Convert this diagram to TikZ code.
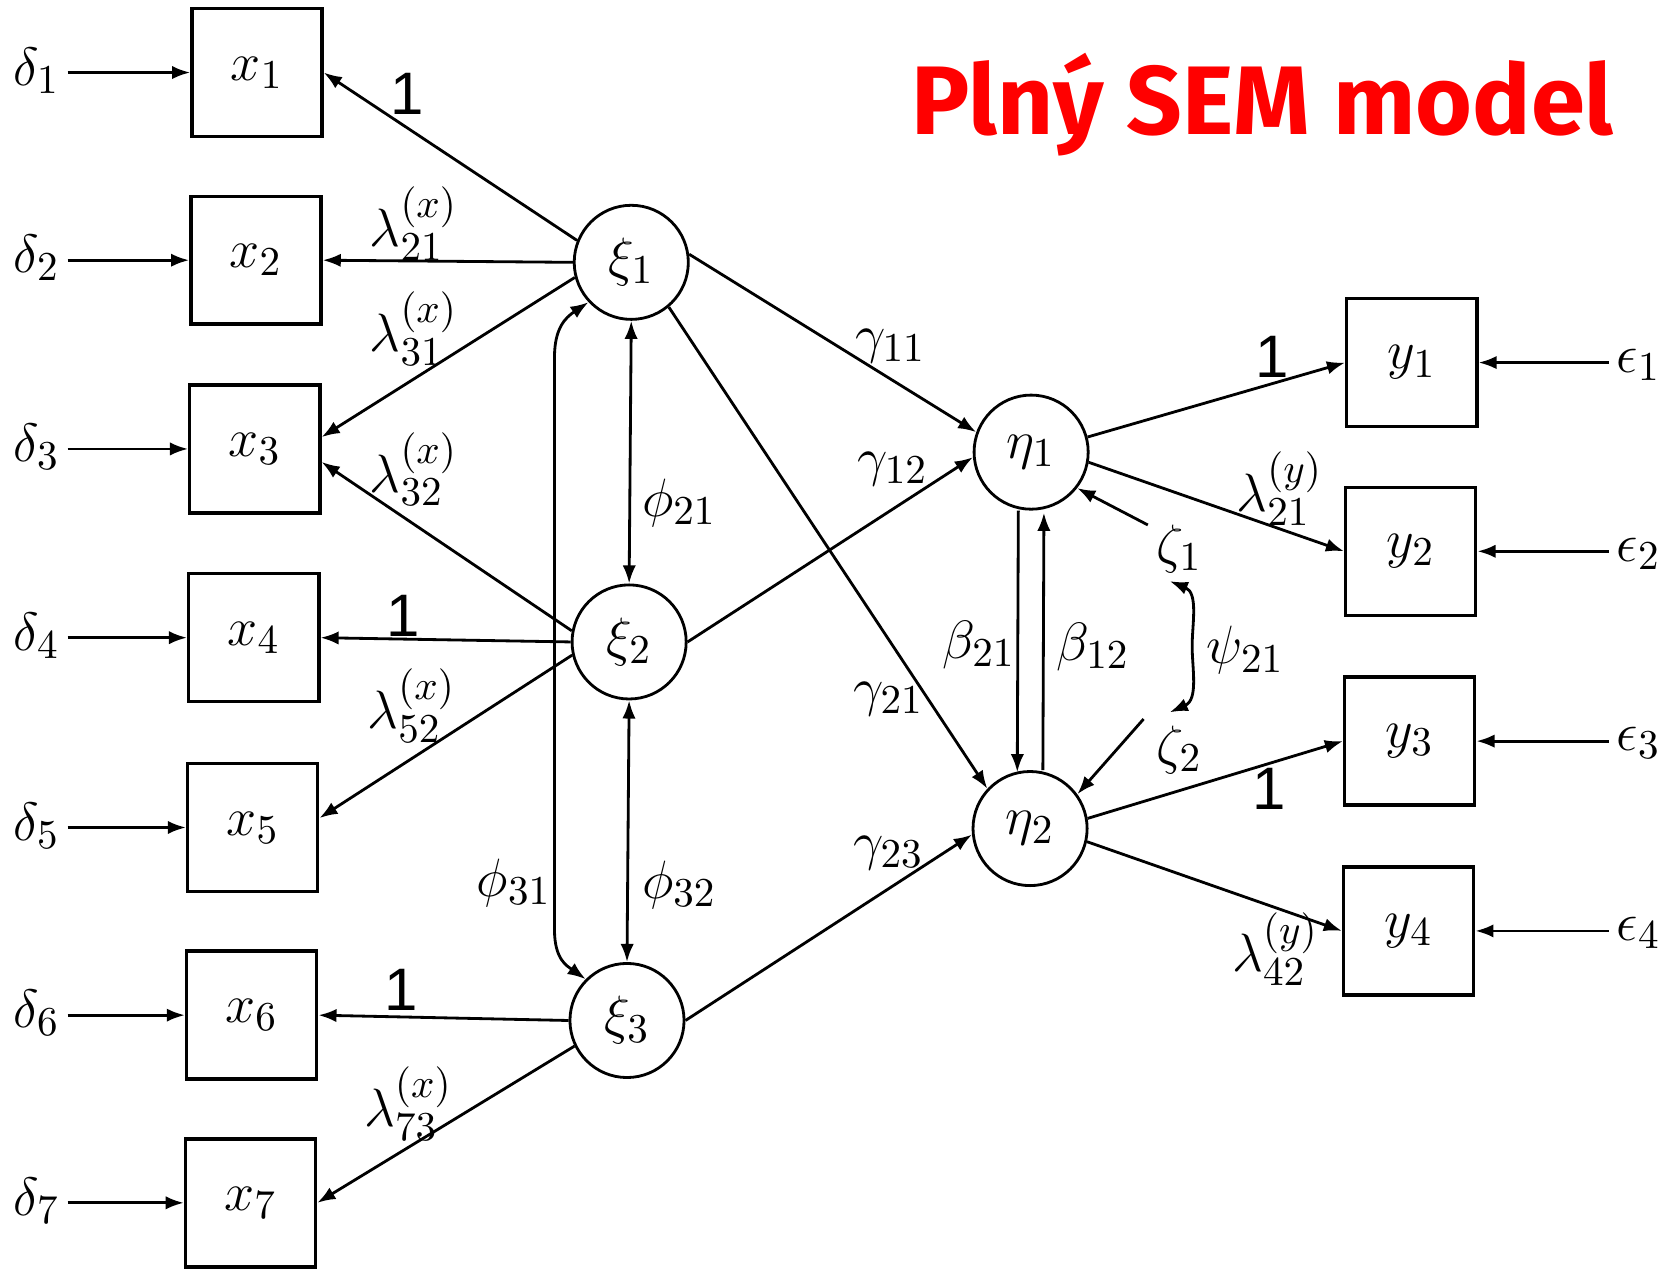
\documentclass[tikz,border=0pt]{standalone}
\usepackage{fontspec}
\usetikzlibrary{arrows.meta,calc}
\newfontfamily\titlefont{Fira Sans}
\newfontfamily\onefont{Liberation Sans}
\begin{document}
\begin{tikzpicture}[x=0.1mm,y=-0.1mm,
  obs/.style={draw,line width=0.9pt,minimum width=12.2mm,minimum height=12mm,inner sep=0pt,font=\fontsize{15}{18}\selectfont},
  lat/.style={draw,circle,line width=0.75pt,minimum size=10.7mm,inner sep=0pt,font=\fontsize{15}{18}\selectfont},
  lab/.style={font=\fontsize{15}{18}\selectfont,inner sep=1pt},
  one/.style={font=\onefont\fontsize{16}{18}\selectfont,inner sep=0pt},
  arr/.style={-{Latex[length=1.7mm,width=1.25mm]},line width=0.75pt},
  darr/.style={{Latex[length=1.7mm,width=1.25mm]}-{Latex[length=1.7mm,width=1.25mm]},line width=0.75pt}]
\useasboundingbox (0,0) rectangle (1568,1190);
% title
\node[text=red,font=\titlefont\bfseries\fontsize{26}{30}\selectfont] (title) at (1184,98) {Plný SEM model};
% observed x
\node[obs] (x1) at (241,68) {$x_1$};
\node[obs] (x2) at (240,244) {$x_2$};
\node[obs] (x3) at (239,421) {$x_3$};
\node[obs] (x4) at (238,598) {$x_4$};
\node[obs] (x5) at (237,776) {$x_5$};
\node[obs] (x6) at (236,952) {$x_6$};
\node[obs] (x7) at (235,1128) {$x_7$};
% observed y
\node[obs] (y1) at (1324,340) {$y_1$};
\node[obs] (y2) at (1323,517) {$y_2$};
\node[obs] (y3) at (1322,695) {$y_3$};
\node[obs] (y4) at (1321,873) {$y_4$};
% latent
\node[lat] (xi1) at (592,246) {$\xi_1$};
\node[lat] (xi2) at (590,602) {$\xi_2$};
\node[lat] (xi3) at (588,957) {$\xi_3$};
\node[lat] (eta1) at (967,424) {$\eta_1$};
\node[lat] (eta2) at (966,777) {$\eta_2$};
% deltas
\foreach \i/\yy in {1/68,2/244,3/421,4/598,5/776,6/952,7/1128}{
  \node[lab,anchor=east] (d\i) at (60,\yy-2) {$\delta_{\i}$};
  \draw[arr] ([xshift=1pt]d\i.east |- x\i.west) -- (x\i.west);
}
% epsilons
\foreach \i/\yy in {1/340,2/517,3/695,4/873}{
  \node[lab,anchor=west] (e\i) at (1512,\yy+2) {$\epsilon_{\i}$};
  \draw[arr] ([xshift=-1pt]e\i.west |- y\i.east) -- (y\i.east);
}
% loadings x
\draw[arr] (xi1.158) -- (x1.east);
\draw[arr] (xi1.west) -- (x2.east);
\draw[arr] (xi1.195) -- (x3.10);
\draw[arr] (xi2.169) -- (x3.-11);
\draw[arr] (xi2.west) -- (x4.east);
\draw[arr] (xi2.193) -- (x5.8);
\draw[arr] (xi3.west) -- (x6.east);
\draw[arr] (xi3.206) -- (x7.east);
\node[one] (l1) at (382,88) {1};
\node[lab] (l21) at (388,210) {$\lambda^{(x)}_{21}$};
\node[lab] (l31) at (388,308) {$\lambda^{(x)}_{31}$};
\node[lab] (l32) at (388,440) {$\lambda^{(x)}_{32}$};
\node[one] (l4) at (378,578) {1};
\node[lab] (l52) at (386,662) {$\lambda^{(x)}_{52}$};
\node[one] (l6) at (376,928) {1};
\node[lab] (l73) at (383,1035) {$\lambda^{(x)}_{73}$};
% covariances among xi
\draw[darr] (xi1.south) -- (xi2.north);
\draw[darr] (xi2.south) -- (xi3.north);
\draw[darr] (xi1.223) .. controls (530,298) and (520,308) .. (520,335) -- (520,872) .. controls (520,900) and (532,906) .. (xi3.135);
\node[lab] (phi21) at (637,472) {$\phi_{21}$};
\node[lab] (phi32) at (637,830) {$\phi_{32}$};
\node[lab] (phi31) at (482,828) {$\phi_{31}$};
% structural
\draw[arr] (xi1.8) -- (eta1.160);
\draw[arr] (xi2.east) -- (eta1.185);
\draw[arr] (xi1.-50) -- (eta2.137);
\draw[arr] (xi3.east) -- (eta2.186);
\node[lab] (g11) at (835,325) {$\gamma_{11}$};
\node[lab] (g12) at (837,440) {$\gamma_{12}$};
\node[lab] (g21) at (833,656) {$\gamma_{21}$};
\node[lab] (g23) at (833,800) {$\gamma_{23}$};
\draw[arr] ($(eta1.south)+(-12,0)$) -- ($(eta2.north)+(-12,2)$);
\draw[arr] ($(eta2.north)+(12,0)$) -- ($(eta1.south)+(12,2)$);
\node[lab] (b21) at (918,605) {$\beta_{21}$};
\node[lab] (b12) at (1025,607) {$\beta_{12}$};
% disturbances
\node[lab] (z1) at (1106,515) {$\zeta_1$};
\node[lab] (z2) at (1106,703) {$\zeta_2$};
\draw[arr] ($(z1.north west)+(-4,4)$) -- (eta1.-38);
\draw[arr] ($(z2.north west)+(-8,-2)$) -- (eta2.36);
\coordinate (p1) at (1097,545);
\coordinate (p2) at (1097,668);
\draw[darr] (p1) .. controls (1124,556) and (1118,585) .. (1118,606) .. controls (1118,627) and (1124,656) .. (p2);
\node[lab] (psi) at (1168,610) {$\psi_{21}$};
% loadings y
\draw[arr] (eta1.15) -- (y1.west);
\draw[arr] (eta1.-10) -- (y2.west);
\draw[arr] (eta2.10) -- (y3.west);
\draw[arr] (eta2.-13) -- (y4.west);
\node[one] (m1) at (1193,335) {1};
\node[lab] (m21) at (1200,458) {$\lambda^{(y)}_{21}$};
\node[one] (m3) at (1190,740) {1};
\node[lab] (m42) at (1196,890) {$\lambda^{(y)}_{42}$};
\end{tikzpicture}
\end{document}
